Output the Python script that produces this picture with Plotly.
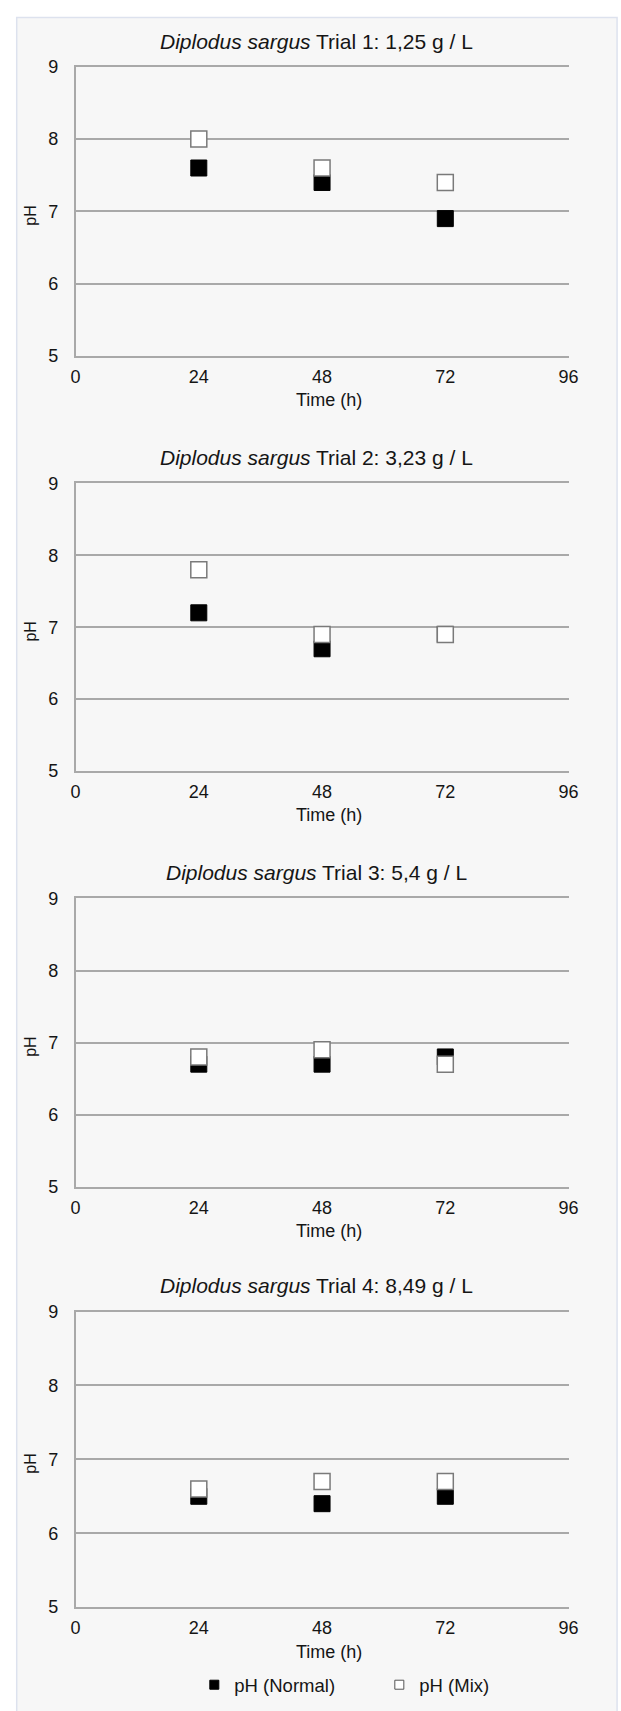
import plotly.graph_objects as go

# ---- data ----
hours = [24, 48, 72]
x_ticks = [0, 24, 48, 72, 96]
y_ticks = [5, 6, 7, 8, 9]
trial_labels = ["Trial 1: 1,25 g / L", "Trial 2: 3,23 g / L",
                "Trial 3: 5,4 g / L", "Trial 4: 8,49 g / L"]
species = "Diplodus sargus"
ph_normal_t1 = [7.6, 7.4, 6.9]
ph_normal_t2 = [7.2, 6.7, 6.9]
ph_normal_t3 = [6.7, 6.7, 6.8]
ph_normal_t4 = [6.5, 6.4, 6.5]
ph_mix_t1 = [8.0, 7.6, 7.4]
ph_mix_t2 = [7.8, 6.9, 6.9]
ph_mix_t3 = [6.8, 6.9, 6.7]
ph_mix_t4 = [6.6, 6.7, 6.7]
ph_normal = [ph_normal_t1, ph_normal_t2, ph_normal_t3, ph_normal_t4]
ph_mix = [ph_mix_t1, ph_mix_t2, ph_mix_t3, ph_mix_t4]
series_names = ["pH (Normal)", "pH (Mix)"]

# ---- layout geometry (pixels) ----
W, H = 621, 1711
x_left, x_right = 72.3, 577.5
panels_px = [(57.5, 350), (479, 770), (899, 1190.5), (1317, 1616)]

def py(p):
    return 1 - p / H

def px(p):
    return p / W

FONT = "Liberation Sans, Arial, sans-serif"
GRID = "#a9a9a9"
TXT = "#151515"

fig = go.Figure()
layout = dict(
    width=W, height=H,
    margin=dict(l=0, r=0, t=0, b=0),
    paper_bgcolor="white",
    plot_bgcolor="rgba(0,0,0,0)",
    font=dict(family=FONT, size=18, color=TXT),
    showlegend=True,
    legend=dict(orientation="h", x=px(194), xanchor="left", y=py(1695), yanchor="middle",
                font=dict(size=18.5, color=TXT), bgcolor="rgba(0,0,0,0)",
                itemwidth=30, entrywidth=140, entrywidthmode="pixels", tracegroupgap=0),
)
annotations = []
shapes = [dict(type="rect", xref="paper", yref="paper", x0=px(12), x1=1.01, y0=-0.01, y1=py(7.5),
               fillcolor="#f7f7f7", line=dict(color="#dde2ee", width=1.5), layer="below")]

for i in range(4):
    n = i + 1
    xa = "x" if n == 1 else f"x{n}"
    ya = "y" if n == 1 else f"y{n}"
    top, bot = panels_px[i]
    fig.add_trace(go.Scatter(
        x=hours, y=ph_normal[i], mode="markers", name=series_names[0], showlegend=False,
        marker=dict(symbol="square", size=16, color="black", line=dict(color="black", width=1)),
        xaxis=xa, yaxis=ya))
    fig.add_trace(go.Scatter(
        x=hours, y=ph_mix[i], mode="markers", name=series_names[1], showlegend=False,
        marker=dict(symbol="square", size=16, color="white", line=dict(color="#7a7a7a", width=1.5)),
        xaxis=xa, yaxis=ya))
    layout[f"xaxis{n if n > 1 else ''}"] = dict(
        domain=[px(x_left), px(x_right)], range=[0, 96], tickvals=x_ticks,
        showgrid=False, zeroline=False, showline=True, mirror=True,
        linecolor=GRID, linewidth=1.5, ticks="",
        tickfont=dict(size=18, color=TXT), anchor=ya, fixedrange=True,
        ticklabelstandoff=4)
    layout[f"yaxis{n if n > 1 else ''}"] = dict(
        domain=[py(bot), py(top)], range=[5, 9], tickvals=y_ticks,
        showgrid=True, gridcolor=GRID, gridwidth=1.5, zeroline=False,
        showline=True, linecolor=GRID, linewidth=1.5, ticks="",
        tickfont=dict(size=18, color=TXT), anchor=xa, fixedrange=True,
        ticklabelstandoff=12)
    # panel title
    annotations.append(dict(
        text=f"<i>{species}</i> {trial_labels[i]}", xref="paper", yref="paper",
        x=px(319), y=py(top - 26), xanchor="center", yanchor="middle",
        showarrow=False, font=dict(size=21, color=TXT)))
    # x axis title
    annotations.append(dict(
        text="Time (h)", xref="paper", yref="paper",
        x=px(332), y=py(bot + 45), xanchor="center", yanchor="middle",
        showarrow=False, font=dict(size=18, color=TXT)))
    # y axis title
    annotations.append(dict(
        text="pH", xref="paper", yref="paper", textangle=-90,
        x=px(26), y=py((top + bot) / 2 + 4), xanchor="center", yanchor="middle",
        showarrow=False, font=dict(size=16, color=TXT)))

# legend entries
fig.add_trace(go.Scatter(x=[None], y=[None], mode="markers", name=series_names[0],
                         marker=dict(symbol="square", size=9, color="black",
                                     line=dict(color="black", width=1))))
fig.add_trace(go.Scatter(x=[None], y=[None], mode="markers", name=series_names[1],
                         marker=dict(symbol="square", size=9, color="white",
                                     line=dict(color="#555", width=1))))

layout["annotations"] = annotations
layout["shapes"] = shapes
fig.update_layout(**layout)
fig.write_html("out.html")
